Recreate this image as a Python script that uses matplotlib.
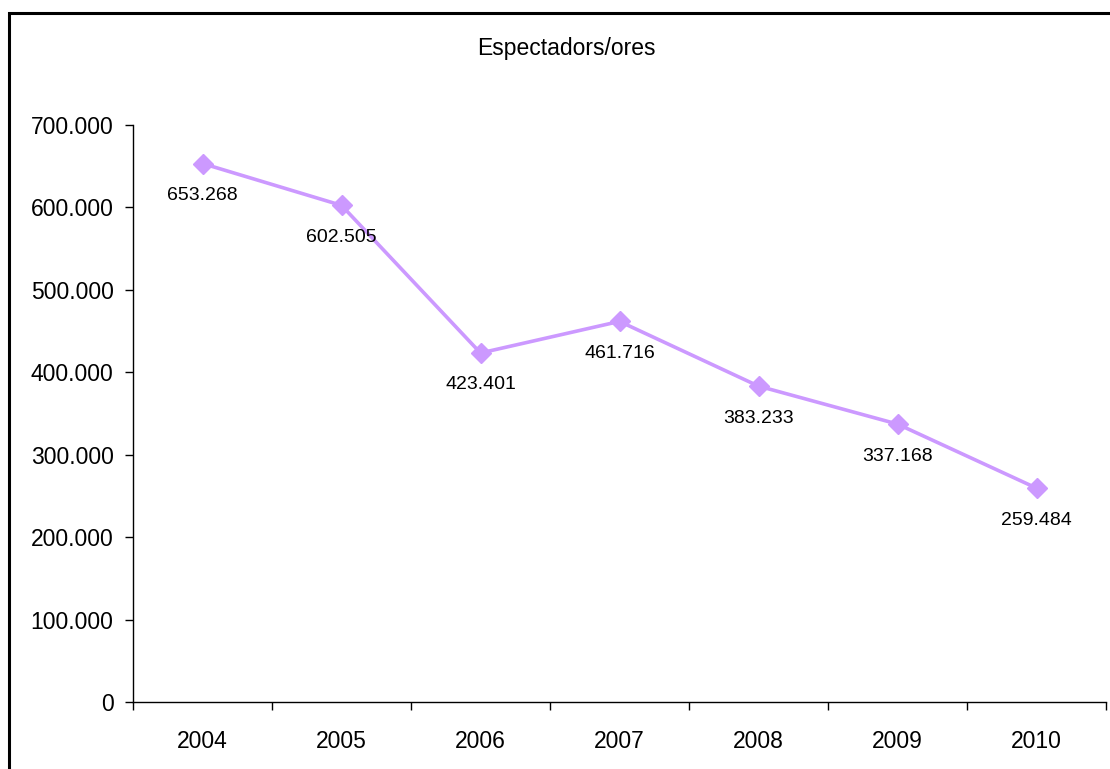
import matplotlib
matplotlib.use("Agg")
import matplotlib.pyplot as plt
from matplotlib.patches import Rectangle
from matplotlib.ticker import FuncFormatter, FixedLocator

years = ["2004", "2005", "2006", "2007", "2008", "2009", "2010"]
values = [653268, 602505, 423401, 461716, 383233, 337168, 259484]
labels = ["653.268", "602.505", "423.401", "461.716", "383.233", "337.168", "259.484"]
title = "Espectadors/ores"

plt.rcParams['font.family'] = ['Liberation Sans', 'DejaVu Sans']

fig = plt.figure(figsize=(11.1, 7.69), dpi=100)
W, H = 1110, 769
# outer chart border (only left/top visible)
fig.patches.append(Rectangle((9 / W, -0.1), 1.2, 1 - 13 / H + 0.1, transform=fig.transFigure,
                             fill=False, edgecolor='black', linewidth=2.2))

ax = fig.add_axes([133 / W, 1 - 702 / H, (1106 - 133) / W, (702 - 125) / H])
x = list(range(len(years)))
ax.plot(x, values, color='#CC99FF', linewidth=2.6, marker='D', markersize=10,
        markerfacecolor='#CC99FF', markeredgecolor='#CC99FF', zorder=3)
for xi, v, lab in zip(x, values, labels):
    ax.annotate(lab, (xi, v), xytext=(0, -23), textcoords='offset points', ha='center',
                va='center', fontsize=14, color='black')

ax.set_xlim(-0.5, len(years) - 0.5)
ax.set_ylim(0, 700000)
ax.set_yticks(range(0, 700001, 100000))
ax.yaxis.set_major_formatter(FuncFormatter(lambda v, p: f"{int(v):,}".replace(",", ".")))
ax.set_xticks(x)
ax.set_xticklabels(years)
ax.xaxis.set_minor_locator(FixedLocator([i - 0.5 for i in range(len(years) + 1)]))
ax.tick_params(axis='x', which='major', length=0, pad=20, labelsize=16.5)
ax.tick_params(axis='x', which='minor', length=6, width=1)
ax.tick_params(axis='y', length=6, width=1, pad=8, labelsize=16.5)
for s in ['top', 'right']:
    ax.spines[s].set_visible(False)
for s in ['left', 'bottom']:
    ax.spines[s].set_linewidth(1)

fig.text(566 / W, 1 - 48 / H, title, ha='center', va='center', fontsize=16.5)

fig.savefig("out.png", dpi=100)
